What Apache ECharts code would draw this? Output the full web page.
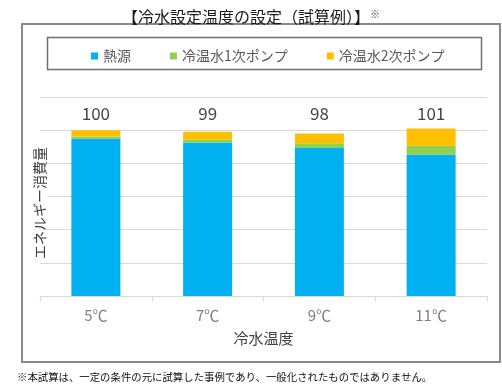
<!DOCTYPE html>
<html><head><meta charset="utf-8">
<script src="https://cdn.jsdelivr.net/npm/echarts@6/dist/echarts.min.js"></script>
<style>html,body{margin:0;padding:0;background:#fff}#c{width:502px;height:385px}</style>
</head><body><div id="c"></div>
<script>
const categories = ['5℃', '7℃', '9℃', '11℃'];
const heatSource = [95.0, 92.5, 89.3, 85.3];
const primaryPump = [1.1, 1.7, 2.8, 5.3];
const secondaryPump = [3.9, 4.8, 5.9, 10.4];
const totals = [100, 99, 98, 101];
const labelLevel = 110;
const yTicks = [0, 20, 40, 60, 80, 100, 120];

const FONT = '"Noto Sans CJK JP", "Noto Sans", sans-serif';
const chart = echarts.init(document.getElementById('c'), null, {renderer: 'canvas'});
chart.setOption({
  animation: false,
  backgroundColor: '#fff',
  textStyle: {fontFamily: FONT},
  title: {
    text: '{a|【冷水設定温度の設定（試算例）】}{b|※}',
    left: 'center', top: 4,
    textStyle: {
      fontWeight: 'normal',
      rich: {
        a: {fontSize: 16, color: '#1a1a1a', fontFamily: FONT, fontWeight: 'normal'},
        b: {fontSize: 10, color: '#444', fontFamily: FONT, fontWeight: 'normal', padding: [0, 0, 5, 0]}
      }
    }
  },
  graphic: [
    {type: 'rect', shape: {x: 22, y: 24, width: 478, height: 338}, style: {fill: 'none', stroke: '#8a8a8a', lineWidth: 2}, silent: true, z: -1},
    {type: 'rect', shape: {x: 47.5, y: 37.5, width: 434, height: 32}, style: {fill: 'none', stroke: '#707070', lineWidth: 1.5}, silent: true},
    {type: 'text', x: 40, y: 203, rotation: Math.PI / 2, z: 10,
      style: {text: 'エネルギー消費量', font: '14px ' + FONT, fill: '#404040', align: 'center', verticalAlign: 'middle', backgroundColor: '#fff', padding: [0, 1]}},
    {type: 'text', x: 17, y: 377,
      style: {text: '※本試算は、一定の条件の元に試算した事例であり、一般化されたものではありません。', font: '10.4px ' + FONT, fill: '#111', verticalAlign: 'middle'}}
  ],
  legend: {
    left: 86, top: 44,
    itemWidth: 7, itemHeight: 7, itemGap: 39, icon: 'rect',
    textStyle: {fontSize: 14, color: '#595959', fontFamily: FONT},
    data: ['熱源', '冷温水1次ポンプ', '冷温水2次ポンプ']
  },
  grid: {left: 40, right: 15, top: 97, bottom: 89, containLabel: false},
  xAxis: {
    type: 'category', data: categories,
    axisLine: {lineStyle: {color: '#d9d9d9'}},
    axisTick: {show: true, length: 5, lineStyle: {color: '#d9d9d9'}},
    axisLabel: {fontSize: 15, color: '#7f7f7f', margin: 12, fontFamily: FONT},
    name: '冷水温度', nameLocation: 'middle', nameGap: 35,
    nameTextStyle: {fontSize: 15, color: '#404040', fontFamily: FONT}
  },
  yAxis: {
    type: 'value', min: yTicks[0], max: yTicks[yTicks.length - 1], interval: yTicks[1] - yTicks[0],
    axisLabel: {show: false}, axisLine: {show: false}, axisTick: {show: false},
    splitLine: {lineStyle: {color: '#d9d9d9'}}
  },
  series: [
    {name: '熱源', type: 'bar', stack: 'e', barWidth: 49, data: heatSource, itemStyle: {color: '#00B0F0'}},
    {name: '冷温水1次ポンプ', type: 'bar', stack: 'e', data: primaryPump, itemStyle: {color: '#92D050'}},
    {name: '冷温水2次ポンプ', type: 'bar', stack: 'e', data: secondaryPump, itemStyle: {color: '#FFC000'}},
    {type: 'scatter', symbolSize: 0, silent: true,
      data: totals.map((t, i) => [i, labelLevel]),
      label: {show: true, position: 'inside', fontSize: 17, color: '#111', fontFamily: FONT,
        formatter: p => String(totals[p.dataIndex])}}
  ]
});
</script></body></html>
